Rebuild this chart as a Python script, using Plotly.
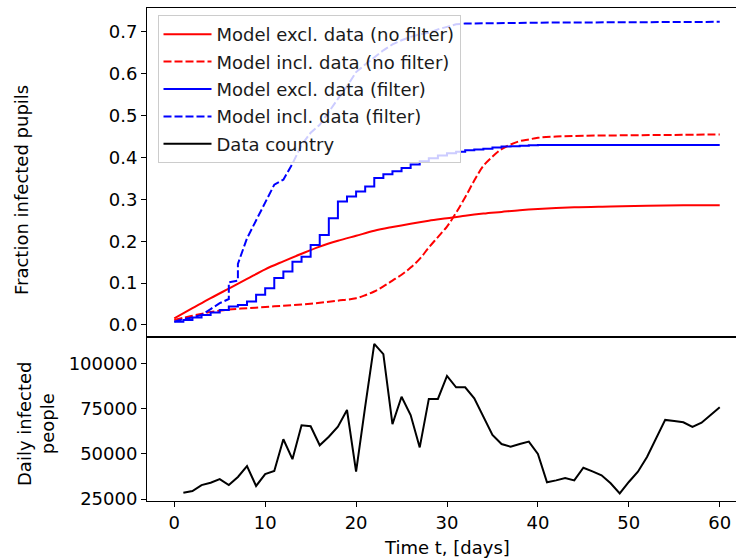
import plotly.graph_objects as go

# ---------------- data ----------------
days_red_solid = [0, 2, 4, 6, 8, 10, 12, 14, 16, 18, 20, 22, 24, 26, 28, 30, 32, 34, 36, 38, 40, 44, 48, 52, 56, 60]
red_solid = [0.016, 0.040, 0.064, 0.087, 0.110, 0.133, 0.152, 0.170, 0.187, 0.201, 0.213, 0.225, 0.234, 0.242,
             0.249, 0.255, 0.261, 0.266, 0.270, 0.274, 0.277, 0.281, 0.283, 0.285, 0.286, 0.286]

days_red_dash = [0, 2, 4, 6, 8, 10, 12, 14, 16, 18, 20, 21, 22, 23, 24, 25, 26, 27, 28, 29, 30, 31, 32, 33, 34,
                 35, 36, 37, 38, 39, 40, 42, 45, 50, 55, 60]
red_dash = [0.012, 0.022, 0.031, 0.037, 0.040, 0.043, 0.046, 0.049, 0.053, 0.058, 0.064, 0.071, 0.080, 0.092,
            0.106, 0.120, 0.137, 0.158, 0.185, 0.210, 0.235, 0.268, 0.305, 0.345, 0.380, 0.402, 0.420, 0.431,
            0.439, 0.443, 0.447, 0.450, 0.452, 0.453, 0.454, 0.455]

days_daily = list(range(0, 61))
blue_solid = [0.008, 0.012, 0.018, 0.024, 0.030, 0.036, 0.044, 0.048, 0.056, 0.072, 0.088, 0.112, 0.128, 0.151,
              0.163, 0.191, 0.215, 0.255, 0.295, 0.307, 0.319, 0.331, 0.351, 0.360, 0.367, 0.375, 0.383, 0.391,
              0.398, 0.405, 0.410, 0.414, 0.417, 0.419, 0.421, 0.424, 0.426, 0.427, 0.428, 0.429, 0.430, 0.430,
              0.430, 0.430, 0.430, 0.430, 0.430, 0.430, 0.430, 0.430, 0.430, 0.430, 0.430, 0.430, 0.430, 0.430,
              0.430, 0.430, 0.430, 0.430, 0.430]

days_blue_dash = [0, 1, 2, 3, 4, 5, 6, 6, 7, 7, 8, 9, 10, 11, 12, 13, 14, 15, 16, 17, 18, 19, 20, 21, 22, 23, 24,
                  25, 26, 27, 28, 29, 30, 31, 32, 35, 40, 50, 60]
blue_dash = [0.008, 0.014, 0.018, 0.024, 0.038, 0.052, 0.062, 0.102, 0.106, 0.146, 0.207, 0.251, 0.295, 0.335,
             0.347, 0.385, 0.430, 0.459, 0.478, 0.510, 0.540, 0.570, 0.604, 0.622, 0.640, 0.656, 0.670, 0.680,
             0.688, 0.694, 0.698, 0.706, 0.712, 0.718, 0.720, 0.721, 0.722, 0.723, 0.724]

days_data = list(range(1, 61))
daily_infected = [28500, 29400, 32700, 34000, 36000, 32700, 37200, 43200, 32200, 38800,
                  40500, 58000, 47000, 65700, 65200, 54700, 59400, 65000, 74200, 40100,
                  76000, 110700, 105100, 66400, 81500, 71400, 53500, 80300, 80300, 93000,
                  86700, 86700, 80650, 70500, 60400, 55400, 53900, 55400, 56700, 49900,
                  34200, 35300, 36600, 35300, 42300, 40300, 38100, 33700, 28100, 34400,
                  40100, 48200, 58300, 68700, 68100, 67400, 64800, 67200, 71400, 75700]

x_ticks = [0, 10, 20, 30, 40, 50, 60]
upper_ticks = [0.0, 0.1, 0.2, 0.3, 0.4, 0.5, 0.6, 0.7]
lower_ticks = [25000, 50000, 75000, 100000]

# ---------------- figure ----------------
FONT = "DejaVu Sans"
FS = 18
fig = go.Figure()
fig.add_trace(go.Scatter(x=days_red_solid, y=red_solid, mode="lines", name="Model excl. data (no filter)",
                         line=dict(color="#ff0000", width=2, shape="spline"), xaxis="x", yaxis="y",
                         legendgroup="a"))
fig.add_trace(go.Scatter(x=days_red_dash, y=red_dash, mode="lines", name="Model incl. data (no filter)",
                         line=dict(color="#ff0000", width=2, dash="8px,3px", shape="spline"), xaxis="x", yaxis="y",
                         legendgroup="b"))
fig.add_trace(go.Scatter(x=days_daily, y=blue_solid, mode="lines", name="Model excl. data (filter)",
                         line=dict(color="#0000ff", width=2, shape="hv"), xaxis="x", yaxis="y",
                         legendgroup="c"))
fig.add_trace(go.Scatter(x=days_blue_dash, y=blue_dash, mode="lines", name="Model incl. data (filter)",
                         line=dict(color="#0000ff", width=2, dash="8px,3px"), xaxis="x", yaxis="y",
                         legendgroup="d"))
fig.add_trace(go.Scatter(x=days_data, y=daily_infected, mode="lines", name="Data country",
                         line=dict(color="#000000", width=2), xaxis="x2", yaxis="y2",
                         legendgroup="e"))

L, R, T, B = 147, 0, 8, 58
W, H = 736, 559
pw = W - L - R
ph = H - T - B
split = (501 - 337.3) / ph

axis_common = dict(showline=True, linecolor="black", linewidth=1, mirror=True, showgrid=False, zeroline=False)

fig.update_layout(
    width=W, height=H,
    margin=dict(l=L, r=R, t=T, b=B, pad=0),
    paper_bgcolor="white", plot_bgcolor="white",
    font=dict(family=FONT, size=FS, color="black"),
    showlegend=True,
    legend=dict(x=(157.5 - L) / pw, y=(501 - 15) / ph, xanchor="left", yanchor="top",
                bgcolor="rgba(255,255,255,0.8)", bordercolor="#cccccc", borderwidth=1,
                font=dict(family=FONT, size=FS, color="#1a1a1a"), tracegroupgap=1,
                itemwidth=48, traceorder="grouped"),
    xaxis=dict(domain=[0, 1], range=[-3.0, 61.79], anchor="y", matches="x2", showticklabels=False,
               ticks="", **axis_common),
    yaxis=dict(domain=[split, 1], range=[-0.0294, 0.757], anchor="x", tickvals=upper_ticks,
               tickformat=".1f", ticks="outside", ticklen=5, tickwidth=1, tickcolor="black", **axis_common),
    xaxis2=dict(domain=[0, 1], range=[-3.0, 61.79], anchor="y2", tickvals=x_ticks,
                ticks="outside", ticklen=5, tickwidth=1, tickcolor="black", **axis_common),
    yaxis2=dict(domain=[0, split], range=[23895, 114370], anchor="x2", tickvals=lower_ticks,
                tickformat="d", ticks="outside", ticklen=5, tickwidth=1, tickcolor="black", **axis_common),
)

fig.add_annotation(text="Fraction infected pupils", xref="paper", yref="paper",
                   x=(22 - L) / pw, y=(501 - 190) / ph, textangle=-90, showarrow=False,
                   xanchor="center", yanchor="middle", font=dict(family=FONT, size=FS, color="black"))
fig.add_annotation(text="Daily infected<br>people", xref="paper", yref="paper",
                   x=(36 - L) / pw, y=(501 - 424) / ph, textangle=-90, showarrow=False,
                   xanchor="center", yanchor="middle", font=dict(family=FONT, size=FS, color="black"))
fig.add_annotation(text="Time t, [days]", xref="paper", yref="paper",
                   x=(447 - L) / pw, y=(501 - 547) / ph, showarrow=False,
                   xanchor="center", yanchor="middle", font=dict(family=FONT, size=FS, color="black"))

fig.write_html("out.html")
